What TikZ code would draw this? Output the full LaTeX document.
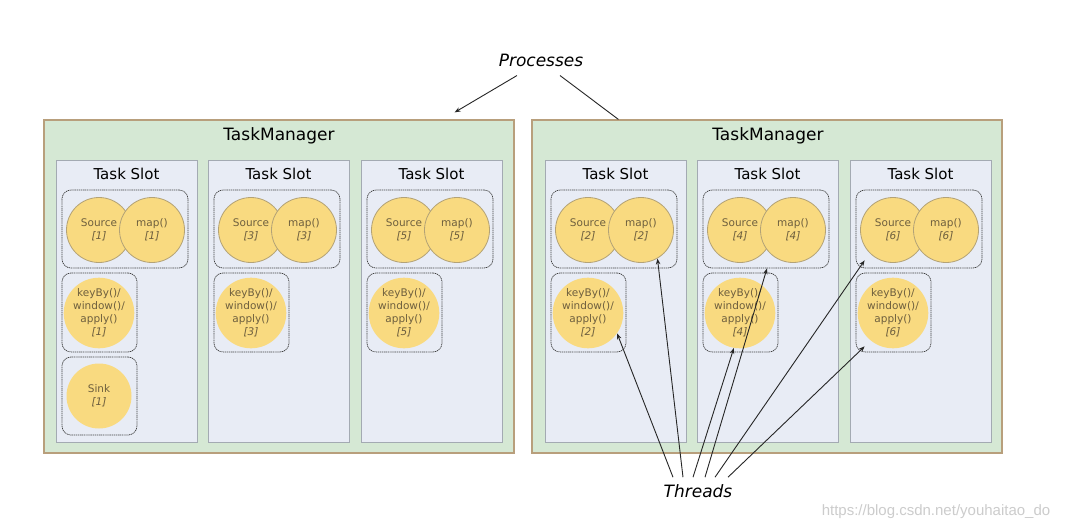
\documentclass[tikz,border=0pt]{standalone}
\usepackage{fontspec}
\setmainfont{DejaVu Sans}
\newfontfamily\wmfont{Liberation Sans}
\usetikzlibrary{arrows.meta}
\definecolor{tmfill}{HTML}{D5E8D4}
\definecolor{tmline}{HTML}{B89F7C}
\definecolor{slotfill}{HTML}{E8ECF5}
\definecolor{slotline}{HTML}{A3AAB2}
\definecolor{opfill}{HTML}{F9DA80}
\definecolor{opline}{HTML}{B3A276}
\definecolor{optext}{HTML}{6E5F3E}
\tikzset{
  tmbox/.style={draw=tmline,fill=tmfill,line width=1.2pt,minimum width=470pt,minimum height=333pt,inner sep=0pt},
  slotbox/.style={draw=slotline,fill=slotfill,line width=0.8pt,minimum width=141pt,minimum height=282pt,inner sep=0pt},
  grp/.style={draw=black!75,line width=0.7pt,dash pattern=on 1.2pt off 0.7pt,rounded corners=9pt,inner sep=0pt},
  op/.style={circle,fill=opfill,minimum size=65pt,inner sep=0pt,align=center,text=optext,font=\fontsize{10.5}{13}\selectfont},
  opb/.style={op,draw=opline,line width=0.8pt},
  arr/.style={draw=black!85,line width=0.9pt,-{Stealth[length=6pt,width=4.5pt]}},
  lbl/.style={font=\fontsize{17}{20}\selectfont\itshape,inner sep=1pt}
}
\begin{document}
\begin{tikzpicture}[x=1pt,y=-1pt]
    \useasboundingbox[fill=white] (0,0) rectangle (1066,530);
    \node[tmbox] (tm1) at (279,286.5) {};
    \node[tmbox] (tm2) at (767,286.5) {};
    \node[font=\fontsize{17}{20}\selectfont] (tmt1) at (279,136) {TaskManager};
    \node[font=\fontsize{17}{20}\selectfont] (tmt2) at (768,136) {TaskManager};
    \foreach \n/\sx in {1/56,3/208,5/361,2/545,4/697,6/850} {
        \node[slotbox] (s\n) at (\sx+70.5,301) {};
        \node[font=\fontsize{15}{18}\selectfont] (st\n) at (\sx+70.5,174) {Task Slot};
        \node[grp,minimum width=126pt,minimum height=78pt] (g\n) at (\sx+69,229) {};
        \node[opb] (src\n) at (\sx+43,230) {Source\\\textit{[\n]}};
        \node[opb] (mp\n) at (\sx+96,230) {map()\\\textit{[\n]}};
        \node[grp,minimum width=75pt,minimum height=79pt] (kg\n) at (\sx+43.5,312.5) {};
        \node[op] (kb\n) at (\sx+43,313) {keyBy()/\\window()/\\apply()\\\textit{[\n]}};
    }
    \node[grp,minimum width=75pt,minimum height=78pt] (sg1) at (99.5,396) {};
    \node[op] (sk1) at (99,396) {Sink\\\textit{[1]}};
    \node[lbl] (pr) at (541,60) {Processes};
    \draw[arr] ([xshift=-24pt,yshift=-8pt]pr.south) -- ([xshift=-60pt,yshift=7pt]tm1.north east);
    \draw[draw=black!85,line width=0.9pt] ([xshift=19pt,yshift=-8pt]pr.south) -- ([xshift=87pt]tm2.north west);
    \node[lbl] (thr) at (698,491) {Threads};
    \draw[arr] ([xshift=-25pt,yshift=6pt]thr.north) -- (kb2.-35);
    \draw[arr] ([xshift=-15pt,yshift=6pt]thr.north) -- (mp2.-60);
    \draw[arr] ([xshift=-5pt,yshift=6pt]thr.north) -- (kb4.-100);
    \draw[arr] ([xshift=7pt,yshift=6pt]thr.north) -- ([xshift=1pt]g4.south);
    \draw[arr] ([xshift=17pt,yshift=6pt]thr.north) -- ([xshift=9pt,yshift=8pt]g6.south west);
    \draw[arr] ([xshift=30pt,yshift=6pt]thr.north) -- ([xshift=9pt,yshift=6pt]kg6.south west);
    \node[font=\wmfont\fontsize{15}{18}\selectfont,text=black!20] (wm) at (936,512) {https://blog.csdn.net/youhaitao\_do};
\end{tikzpicture}
\end{document}
